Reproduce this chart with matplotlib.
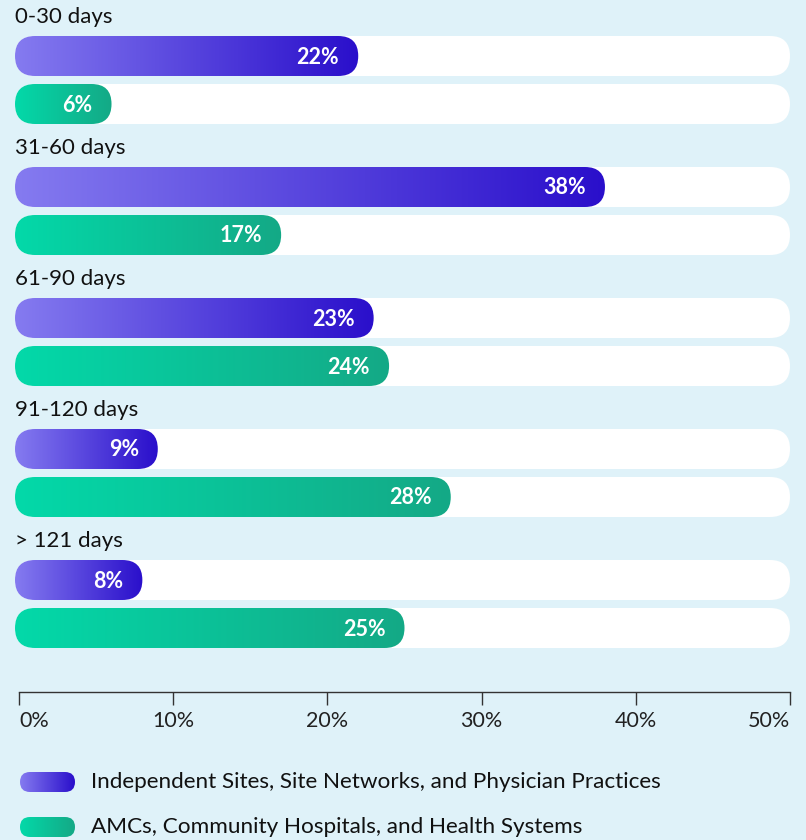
import matplotlib
matplotlib.use("Agg")
import matplotlib.pyplot as plt
import numpy as np
from matplotlib.patches import FancyBboxPatch
from matplotlib.colors import LinearSegmentedColormap

# data
groups = ['0-30 days', '31-60 days', '61-90 days', '91-120 days', '> 121 days']
independent = [22, 38, 23, 9, 8]
amcs = [6, 17, 24, 28, 25]
series_names = ['Independent Sites, Site Networks, and Physician Practices',
                'AMCs, Community Hospitals, and Health Systems']
xticks = [0, 10, 20, 30, 40, 50]
xticklabels = ['0%', '10%', '20%', '30%', '40%', '50%']

bg = '#DFF2F9'
purple = LinearSegmentedColormap.from_list('p', ['#857BF0', '#2A0FCB'])
green = LinearSegmentedColormap.from_list('g', ['#03D9A9', '#14A986'])
plt.rcParams['font.family'] = ['Lato', 'DejaVu Sans']

W, H = 806, 840
fig = plt.figure(figsize=(W / 100, H / 100), dpi=100, facecolor=bg)

# main axes: x in percent, y in pixels (top = 0)
x0_px, x1_px, axis_y = 19, 790, 692
ax = fig.add_axes([x0_px / W, 1 - axis_y / H, (x1_px - x0_px) / W, axis_y / H])
ax.set_facecolor('none')
xmax = 50
px = xmax / (x1_px - x0_px)      # percent per pixel
aspect = 1 / px                  # y units per x unit


def pill(a, x, y, w, h, asp, color=None, cmap=None):
    r = h / 2 / asp
    p = FancyBboxPatch((x, y), w, h, boxstyle=f'round,pad=0,rounding_size={r}',
                       mutation_aspect=asp, linewidth=0,
                       facecolor=color if color else 'none', clip_on=False, zorder=2)
    a.add_patch(p)
    if cmap is not None:
        grad = np.linspace(0, 1, 256).reshape(1, -1)
        im = a.imshow(grad, cmap=cmap, extent=(x, x + w, y + h, y), aspect='auto',
                      zorder=3)
        im.set_clip_box(fig.bbox)
        im.set_clip_path(p)
    return p


bar_h = 40
start = -4 * px
for g, name in enumerate(groups):
    top = 36 + 131 * g
    ax.text(start, top - 13, name, fontsize=16, color='#111111', va='baseline', ha='left')
    for k, (vals, cmap) in enumerate([(independent, purple), (amcs, green)]):
        y = top + 48 * k
        pill(ax, start, y, xmax - start, bar_h, aspect, color='white')
        v = vals[g]
        pill(ax, start, y, v - start, bar_h, aspect, cmap=cmap)
        ax.text(v - 19 * px, y + bar_h / 2 + 1, f'{v}%', fontsize=15.5, fontweight='bold',
                color='white', ha='right', va='center', zorder=4)

ax.set_xlim(0, xmax)
ax.set_ylim(axis_y, 0)
for s in ['left', 'top', 'right']:
    ax.spines[s].set_visible(False)
ax.spines['bottom'].set_color('#333333')
ax.spines['bottom'].set_linewidth(1)
ax.set_yticks([])
ax.set_xticks(xticks)
ax.set_xticklabels(xticklabels, fontsize=15.5, color='#222222')
ax.tick_params(axis='x', direction='out', length=9, width=1, color='#333333', pad=5)
labels = ax.get_xticklabels()
labels[0].set_horizontalalignment('left')
labels[-1].set_horizontalalignment('right')

# legend axes in pixel units
lax = fig.add_axes([0, 0, 1, 100 / H])
lax.set_xlim(0, W)
lax.set_ylim(840, 740)
lax.axis('off')
for i, (name, cmap) in enumerate(zip(series_names, [purple, green])):
    cy = 782 + 45 * i
    pill(lax, 20, cy - 10, 55, 20, 1.0, cmap=cmap)
    lax.text(91, cy, name, fontsize=16.2, color='#111111', va='center', ha='left')

fig.savefig('out.png', dpi=100, facecolor=bg)
